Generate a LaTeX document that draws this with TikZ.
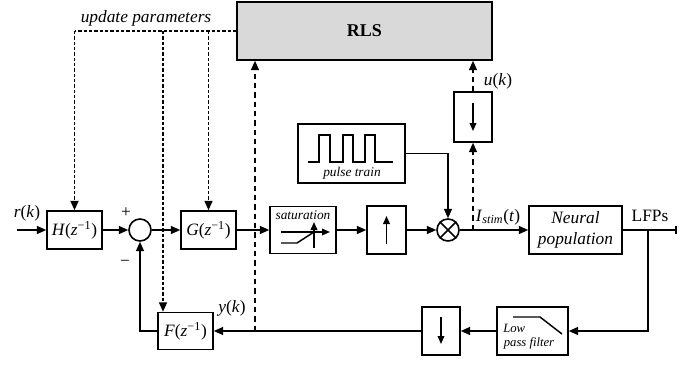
\documentclass[tikz,border=0pt]{standalone}
\usepackage{fontspec}
\setmainfont{Liberation Serif}
\usetikzlibrary{arrows.meta,calc}
\tikzset{
 base/.style={font=\fontsize{13}{14}\selectfont},
 blk/.style={draw, line width=1.2pt, inner sep=0pt, base},
 sz/.style 2 args={minimum width=#1*0.75pt, minimum height=#2*0.75pt},
 junc/.style={draw, circle, line width=1.2pt, minimum size=22*0.75pt, inner sep=0pt},
 sig/.style={line width=1.1pt, -{Triangle[length=7pt,width=6pt]}},
 wire/.style={line width=1.1pt},
 upd/.style={line width=1.1pt, dash pattern=on 2.5pt off 1.5pt},
 dsh/.style={line width=1.1pt, dash pattern=on 4pt off 3pt},
 tip/.style={-{Triangle[length=7pt,width=6pt]}},
 ina/.style={line width=1.1pt, -{Triangle[length=6pt,width=5pt]}},
 small/.style={font=\fontsize{10}{11}\selectfont\itshape, inner sep=0pt},
 lbl/.style={base, inner sep=0pt},
}
\begin{document}
\begin{tikzpicture}[x=0.75pt,y=-0.75pt]
\useasboundingbox (0,0) rectangle (700,365);
% blocks
\node[blk,sz={255}{58},fill=black!15,font=\fontsize{13.5}{14}\selectfont\bfseries] (rls) at (364.5,31) {RLS};
\node[blk,sz={55}{38}] (H) at (74.5,230) {\textit{H}(\textit{z}\textsuperscript{−1})};
\node[junc] (sum) at (140,230) {};
\node[blk,sz={55}{38}] (G) at (208.5,230) {\textit{G}(\textit{z}\textsuperscript{−1})};
\node[blk,sz={66}{47}] (sat) at (303,230) {};
\node[blk,sz={39}{48}] (up) at (386.5,230) {};
\node[junc] (mult) at (448,230) {};
\node[blk,sz={107}{59}] (pulse) at (351.5,153.5) {};
\node[blk,sz={38}{50}] (dn1) at (473,117) {};
\node[blk,sz={93}{48},align=center,font=\fontsize{13}{15.5}\selectfont\itshape] (neural) at (575.5,230) {Neural\\population};
\node[blk,sz={71}{48}] (lpf) at (532.5,331) {};
\node[blk,sz={38}{48}] (dn2) at (441,331) {};
\node[blk,sz={55}{37}] (F) at (185.5,331) {\textit{F}(\textit{z}\textsuperscript{−1})};
% coordinates
\coordinate (in) at (17,230);
\coordinate (out) at (677,230);
\coordinate (br) at (648,230);
\coordinate (yk) at (255,331);
\coordinate (is) at (473,230);
\coordinate (p1) at (74.5,31);
\coordinate (p2) at (163,31);
\coordinate (p3) at (208.5,31);
% signal connectors
\draw[sig] (in) -- (H);
\draw[sig] (H) -- (sum);
\draw[sig] (sum) -- (G);
\draw[sig] (G) -- (sat);
\draw[sig] (sat) -- (up);
\draw[sig] (up) -- (mult);
\draw[sig] (pulse.east) -| (mult.north);
\draw[sig] (mult) -- (neural);
\draw[wire,-{Bar[width=6pt,line width=1.8pt]}] (neural) -- (out);
\draw[sig] (br) |- (lpf.east);
\draw[sig] (lpf) -- (dn2);
\draw[sig] (dn2) -- (F);
\draw[sig] (F.west) -| (sum.south);
% dashed to RLS
\draw[dsh,tip] (yk) -- (yk |- rls.south);
\draw[dsh,tip] (is) -- (dn1.south);
\draw[dsh,tip] (dn1.north) -- (dn1.north |- rls.south);
% update parameters
\draw[upd] (rls.west) -- (p1);
\draw[upd,tip] (p1) -- (H.north);
\draw[upd,tip] (p2) -- (p2 |- F.north);
\draw[upd,tip] (p3) -- (G.north);
% multiplier cross
\draw[wire] (mult.north east) -- (mult.south west);
\draw[wire] (mult.north west) -- (mult.south east);
% labels
\node[lbl,font=\fontsize{13}{14}\selectfont\itshape] (upl) at (146,18) {update parameters};
\node[lbl] (rl) at (27,213) {\textit{r}(\textit{k})};
\node[lbl] (plus) at (126,213) {+};
\node[lbl] (minus) at (125,263) {−};
\node[lbl] (yl) at (232,308) {\textit{y}(\textit{k})};
\node[lbl] (ul) at (498,81) {\textit{u}(\textit{k})};
\node[lbl] (il) at (498,217) {\textit{I}\textsubscript{\textit{stim}}(\textit{t})};
\node[lbl] (lfp) at (650,216) {LFPs};
% saturation icon
\node[small] (satl) at (303,215) {saturation};
\draw[ina] (281,232) -- (330,232);
\draw[ina] (314,248) -- (314,222);
\draw[wire] (281,243) -- (297,243) -- (314,232);
% pulse train icon
\draw[line width=1.2pt] (308,162) -- (319,162) -- (319,135) -- (330,135) -- (330,162) -- (343,162) -- (343,135) -- (353,135) -- (353,162) -- (365,162) -- (365,135) -- (375,135) -- (375,162) -- (393,162);
\node[small] (pl) at (352,173) {pulse train};
% up / down sampler arrows
\draw[ina] (386.5,244) -- (386.5,216);
\draw[ina] (473,103) -- (473,131);
\draw[ina] (441,317) -- (441,344);
% low pass filter icon
\draw[wire] (513,317) -- (540,317) -- (562,334);
\node[small,font=\fontsize{9.5}{11}\selectfont\itshape,anchor=west] (lowl) at (503,328) {Low};
\node[small,font=\fontsize{9.5}{11}\selectfont\itshape] (pfl) at (529,343) {pass filter};
\end{tikzpicture}
\end{document}
